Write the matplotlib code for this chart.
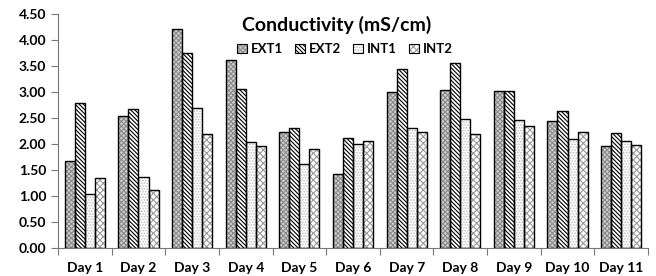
import matplotlib
matplotlib.use("Agg")
import matplotlib.pyplot as plt
from matplotlib.patches import Patch
from matplotlib.legend_handler import HandlerTuple
import numpy as np

plt.rcParams['font.family'] = ['Lato', 'DejaVu Sans']
plt.rcParams['hatch.linewidth'] = 0.8

days = ["Day 1", "Day 2", "Day 3", "Day 4", "Day 5", "Day 6", "Day 7", "Day 8", "Day 9", "Day 10", "Day 11"]
ext1 = [1.68, 2.53, 4.22, 3.61, 2.24, 1.43, 3.00, 3.04, 3.01, 2.45, 1.97]
ext2 = [2.78, 2.67, 3.75, 3.06, 2.30, 2.12, 3.44, 3.56, 3.01, 2.64, 2.21]
int1 = [1.03, 1.36, 2.70, 2.03, 1.62, 2.00, 2.30, 2.48, 2.47, 2.09, 2.06]
int2 = [1.35, 1.11, 2.20, 1.96, 1.91, 2.05, 2.24, 2.20, 2.34, 2.23, 1.98]
series = [("EXT1", ext1), ("EXT2", ext2), ("INT1", int1), ("INT2", int2)]
yticks = [0.0, 0.5, 1.0, 1.5, 2.0, 2.5, 3.0, 3.5, 4.0, 4.5]

styles = [
    dict(facecolor="#d0d0d0", hatch="xxxxxxx", edgecolor="#8a8a8a"),
    dict(facecolor="white", hatch="\\" * 8, edgecolor="black"),
    dict(facecolor="white", hatch="......", edgecolor="#c0c0c0"),
    dict(facecolor="white", hatch="xxxxx", edgecolor="#9a9a9a"),
]

fig = plt.figure(figsize=(6.56, 2.76), dpi=100)
ax = fig.add_axes([58/656, 1 - 248/276, 590/656, 234/276])

x = np.arange(len(days))
w = 0.1875
handles = []
for i, (name, vals) in enumerate(series):
    st = styles[i]
    pos = x + (i - 1.5) * w
    ax.bar(pos, vals, w, color=st["facecolor"], hatch=st["hatch"],
           edgecolor=st["edgecolor"], linewidth=0, zorder=2)
    ax.bar(pos, vals, w, facecolor="none", edgecolor="black", linewidth=1.0, zorder=3)
    handles.append((Patch(facecolor=st["facecolor"], hatch=st["hatch"],
                          edgecolor=st["edgecolor"], linewidth=0),
                    Patch(facecolor="none", edgecolor="black", linewidth=0.8)))

ax.set_xlim(-0.5, len(days) - 0.5)
ax.set_ylim(0, 4.5)
ax.set_yticks(yticks)
ax.set_yticklabels([f"{v:.2f}" for v in yticks], fontsize=10, fontweight="bold")
ax.set_xticks(np.arange(len(days) + 1) - 0.5)
ax.set_xticklabels([])
ax.set_xticks(x, minor=True)
ax.set_xticklabels(days, minor=True, fontsize=10, fontweight="bold")
ax.tick_params(axis="x", which="minor", length=0, pad=10)
ax.tick_params(axis="x", which="major", length=5, direction="out", color="#777777")
ax.tick_params(axis="y", length=5, direction="out", color="#777777")
for s in ["top", "right"]:
    ax.spines[s].set_visible(False)
ax.spines["left"].set_color("#777777")
ax.spines["bottom"].set_color("#777777")

fig.text(337/656, 1 - 25/276, "Conductivity (mS/cm)", ha="center", va="center",
         fontsize=14, fontweight="bold")
leg = fig.legend(handles=handles, labels=[s[0] for s in series], loc="center",
                 bbox_to_anchor=(345/656, 1 - 49/276), ncol=4, frameon=False,
                 prop={"weight": "bold", "size": 9.5}, handlelength=0.75, handleheight=0.75,
                 handletextpad=0.3, columnspacing=0.9,
                 handler_map={tuple: HandlerTuple(ndivide=1, pad=0)})

fig.savefig("out.png", dpi=100)
